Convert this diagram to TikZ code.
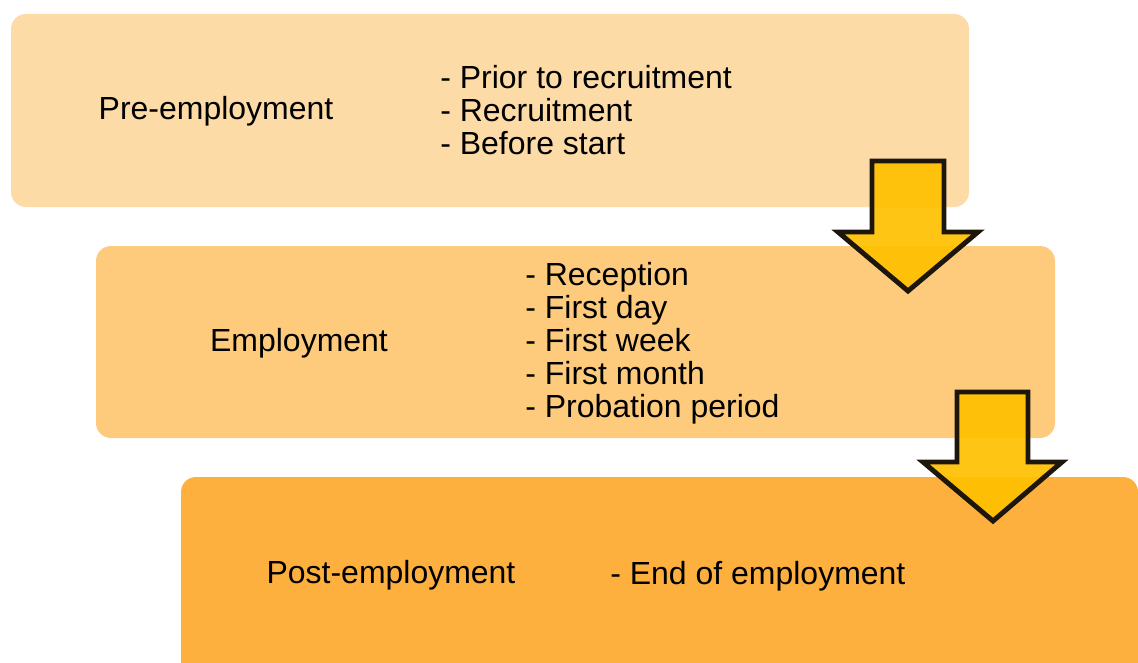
\documentclass[tikz,border=0pt]{standalone}
\usepackage{fontspec}
\setmainfont{Liberation Sans}
\usetikzlibrary{positioning}
\definecolor{stagelight}{RGB}{253, 219, 166}
\definecolor{stagemid}{RGB}{254, 203, 124}
\definecolor{stagedark}{RGB}{253, 176, 62}
\definecolor{arrowfill}{RGB}{255, 192, 0}
\definecolor{arrowline}{RGB}{28, 22, 12}
\tikzset{
  stagebox/.style={rounded corners=0.3cm},
  stagename/.style={inner sep=0pt, font=\fontsize{18.2}{18.8}\selectfont},
  stagelist/.style={inner sep=0pt, anchor=west, align=left, font=\fontsize{18.2}{18.8}\selectfont},
  blockarrow/.style={fill=arrowfill, fill opacity=0.92, draw=arrowline, line width=2.8pt, miter limit=20}
}

\begin{document}
\begin{tikzpicture}[x=0.02cm, y=-0.02cm]
\useasboundingbox (0,0) rectangle (1138,662);
\clip (0,0) rectangle (1138,662);

% the three stages
\fill[stagebox, stagelight] (11,14) rectangle (969,207);
\fill[stagebox, stagemid] (96,246) rectangle (1055,438);
\fill[stagebox, stagedark] (181,477) rectangle (1138,700);

\node[stagename] (pre) at (216,111) {Pre-employment};
\node[stagelist] (prelist) at (440,110) {- Prior to recruitment\\- Recruitment\\- Before start};

\node[stagename] (emp) at (299,343) {Employment};
\node[stagelist] (emplist) at (525,343) {- Reception\\- First day\\- First week\\- First month\\- Probation period};

\node[stagename] (post) at (391,575) {Post-employment};
\node[stagelist] (postlist) at (610,576) {- End of employment};

% arrows down to the next stage
\draw[blockarrow] (872,161) -- (944,161) -- (944,232) -- (978,232) -- (908,291)
  -- (838,232) -- (872,232) -- cycle;
\draw[blockarrow] (957,392) -- (1028,392) -- (1028,462) -- (1062,462) -- (993,521)
  -- (923,462) -- (957,462) -- cycle;
\end{tikzpicture}
\end{document}
